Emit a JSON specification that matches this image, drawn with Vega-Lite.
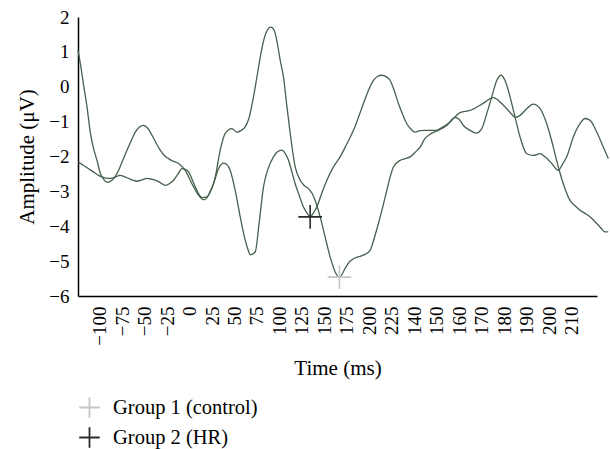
{
  "$schema": "https://vega.github.io/schema/vega-lite/v6.json",
  "autosize": {"type": "none"},
  "width": 519,
  "height": 279,
  "padding": {"left": 78, "top": 17, "right": 13, "bottom": 153},
  "background": "white",
  "config": {
    "view": {"stroke": null},
    "font": "Liberation Serif",
    "axis": {
      "domainColor": "#000", "domainWidth": 1.5, "ticks": false, "grid": false, "labelOverlap": false,
      "labelFont": "Liberation Serif", "labelFontSize": 19, "labelColor": "#000",
      "titleFont": "Liberation Serif", "titleFontSize": 21, "titleFontWeight": "normal", "titleColor": "#000"
    },
    "legend": {
      "labelFont": "Liberation Serif", "labelFontSize": 20.5, "labelColor": "#000"
    }
  },
  "datasets": {
    "curves": [
      {"s":"A","u":-0.96,"v":1.05},{"s":"A","u":-0.836,"v":0.59},{"s":"A","u":-0.711,"v":0.04},{"s":"A","u":-0.569,"v":-0.53},{"s":"A","u":-0.413,"v":-1.31},{"s":"A","u":-0.28,"v":-1.74},{"s":"A","u":-0.116,"v":-2.11},{"s":"A","u":0.031,"v":-2.48},{"s":"A","u":0.178,"v":-2.65},{"s":"A","u":0.329,"v":-2.74},{"s":"A","u":0.551,"v":-2.68},{"s":"A","u":0.844,"v":-2.4},{"s":"A","u":1.031,"v":-2.11},{"s":"A","u":1.218,"v":-1.82},{"s":"A","u":1.409,"v":-1.54},{"s":"A","u":1.587,"v":-1.3},{"s":"A","u":1.764,"v":-1.16},{"s":"A","u":1.956,"v":-1.11},{"s":"A","u":2.142,"v":-1.19},{"s":"A","u":2.329,"v":-1.39},{"s":"A","u":2.52,"v":-1.62},{"s":"A","u":2.698,"v":-1.82},{"s":"A","u":2.876,"v":-1.97},{"s":"A","u":3.067,"v":-2.06},{"s":"A","u":3.289,"v":-2.14},{"s":"A","u":3.511,"v":-2.2},{"s":"A","u":3.809,"v":-2.4},{"s":"A","u":4.107,"v":-2.78},{"s":"A","u":4.4,"v":-3.11},{"s":"A","u":4.622,"v":-3.24},{"s":"A","u":4.844,"v":-3.11},{"s":"A","u":5.142,"v":-2.59},{"s":"A","u":5.364,"v":-1.82},{"s":"A","u":5.587,"v":-1.34},{"s":"A","u":5.884,"v":-1.2},{"s":"A","u":6.107,"v":-1.3},{"s":"A","u":6.298,"v":-1.25},{"s":"A","u":6.476,"v":-1.15},{"s":"A","u":6.653,"v":-0.88},{"s":"A","u":6.844,"v":-0.29},{"s":"A","u":7.009,"v":0.33},{"s":"A","u":7.218,"v":1.1},{"s":"A","u":7.409,"v":1.56},{"s":"A","u":7.618,"v":1.71},{"s":"A","u":7.764,"v":1.62},{"s":"A","u":7.92,"v":1.19},{"s":"A","u":8.031,"v":0.76},{"s":"A","u":8.178,"v":0.28},{"s":"A","u":8.298,"v":-0.39},{"s":"A","u":8.476,"v":-1.33},{"s":"A","u":8.698,"v":-2.3},{"s":"A","u":8.92,"v":-2.68},{"s":"A","u":9.098,"v":-2.83},{"s":"A","u":9.289,"v":-2.92},{"s":"A","u":9.453,"v":-3.06},{"s":"A","u":9.587,"v":-3.26},{"s":"A","u":9.809,"v":-3.73},{"s":"A","u":10.031,"v":-4.31},{"s":"A","u":10.253,"v":-4.88},{"s":"A","u":10.476,"v":-5.31},{"s":"A","u":10.667,"v":-5.46},{"s":"A","u":10.92,"v":-5.21},{"s":"A","u":11.098,"v":-5.03},{"s":"A","u":11.289,"v":-4.93},{"s":"A","u":11.498,"v":-4.88},{"s":"A","u":11.733,"v":-4.83},{"s":"A","u":12.031,"v":-4.69},{"s":"A","u":12.209,"v":-4.35},{"s":"A","u":12.4,"v":-3.92},{"s":"A","u":12.587,"v":-3.46},{"s":"A","u":12.773,"v":-2.97},{"s":"A","u":12.92,"v":-2.59},{"s":"A","u":13.067,"v":-2.3},{"s":"A","u":13.364,"v":-2.11},{"s":"A","u":13.587,"v":-2.06},{"s":"A","u":13.809,"v":-2.01},{"s":"A","u":14.031,"v":-1.88},{"s":"A","u":14.253,"v":-1.73},{"s":"A","u":14.476,"v":-1.48},{"s":"A","u":14.698,"v":-1.36},{"s":"A","u":14.996,"v":-1.27},{"s":"A","u":15.44,"v":-1.11},{"s":"A","u":15.809,"v":-0.88},{"s":"A","u":15.987,"v":-0.93},{"s":"A","u":16.178,"v":-1.11},{"s":"A","u":16.476,"v":-1.25},{"s":"A","u":16.742,"v":-1.33},{"s":"A","u":16.996,"v":-1.2},{"s":"A","u":17.218,"v":-0.77},{"s":"A","u":17.44,"v":-0.29},{"s":"A","u":17.662,"v":0.18},{"s":"A","u":17.853,"v":0.33},{"s":"A","u":18.031,"v":0.18},{"s":"A","u":18.253,"v":-0.29},{"s":"A","u":18.476,"v":-0.87},{"s":"A","u":18.698,"v":-1.44},{"s":"A","u":18.996,"v":-1.92},{"s":"A","u":19.289,"v":-1.97},{"s":"A","u":19.587,"v":-1.92},{"s":"A","u":19.809,"v":-2.01},{"s":"A","u":20.107,"v":-2.2},{"s":"A","u":20.4,"v":-2.4},{"s":"A","u":20.587,"v":-2.22},{"s":"A","u":20.773,"v":-2.01},{"s":"A","u":21.067,"v":-1.44},{"s":"A","u":21.364,"v":-1.06},{"s":"A","u":21.587,"v":-0.91},{"s":"A","u":21.809,"v":-0.96},{"s":"A","u":22.107,"v":-1.3},{"s":"A","u":22.4,"v":-1.73},{"s":"A","u":22.622,"v":-2.06},
      {"s":"B","u":-0.96,"v":-2.16},{"s":"B","u":-0.724,"v":-2.25},{"s":"B","u":-0.489,"v":-2.35},{"s":"B","u":-0.28,"v":-2.44},{"s":"B","u":-0.044,"v":-2.54},{"s":"B","u":0.164,"v":-2.6},{"s":"B","u":0.4,"v":-2.63},{"s":"B","u":0.653,"v":-2.6},{"s":"B","u":0.92,"v":-2.54},{"s":"B","u":1.098,"v":-2.58},{"s":"B","u":1.289,"v":-2.63},{"s":"B","u":1.476,"v":-2.68},{"s":"B","u":1.662,"v":-2.71},{"s":"B","u":1.884,"v":-2.67},{"s":"B","u":2.107,"v":-2.63},{"s":"B","u":2.298,"v":-2.65},{"s":"B","u":2.476,"v":-2.68},{"s":"B","u":2.698,"v":-2.75},{"s":"B","u":2.92,"v":-2.83},{"s":"B","u":3.098,"v":-2.78},{"s":"B","u":3.289,"v":-2.68},{"s":"B","u":3.476,"v":-2.51},{"s":"B","u":3.662,"v":-2.35},{"s":"B","u":3.809,"v":-2.37},{"s":"B","u":3.956,"v":-2.44},{"s":"B","u":4.098,"v":-2.63},{"s":"B","u":4.253,"v":-2.87},{"s":"B","u":4.4,"v":-3.06},{"s":"B","u":4.551,"v":-3.18},{"s":"B","u":4.773,"v":-3.16},{"s":"B","u":4.92,"v":-3.0},{"s":"B","u":5.067,"v":-2.78},{"s":"B","u":5.289,"v":-2.35},{"s":"B","u":5.511,"v":-2.19},{"s":"B","u":5.676,"v":-2.24},{"s":"B","u":5.809,"v":-2.4},{"s":"B","u":6.031,"v":-2.97},{"s":"B","u":6.253,"v":-3.73},{"s":"B","u":6.476,"v":-4.4},{"s":"B","u":6.609,"v":-4.69},{"s":"B","u":6.698,"v":-4.82},{"s":"B","u":6.92,"v":-4.74},{"s":"B","u":7.098,"v":-3.89},{"s":"B","u":7.289,"v":-2.87},{"s":"B","u":7.498,"v":-2.34},{"s":"B","u":7.733,"v":-2.01},{"s":"B","u":7.898,"v":-1.87},{"s":"B","u":8.107,"v":-1.82},{"s":"B","u":8.253,"v":-1.91},{"s":"B","u":8.4,"v":-2.11},{"s":"B","u":8.542,"v":-2.42},{"s":"B","u":8.698,"v":-2.78},{"s":"B","u":8.876,"v":-3.11},{"s":"B","u":9.067,"v":-3.45},{"s":"B","u":9.231,"v":-3.63},{"s":"B","u":9.364,"v":-3.73},{"s":"B","u":9.498,"v":-3.63},{"s":"B","u":9.662,"v":-3.45},{"s":"B","u":9.876,"v":-3.06},{"s":"B","u":10.107,"v":-2.68},{"s":"B","u":10.387,"v":-2.31},{"s":"B","u":10.698,"v":-2.01},{"s":"B","u":10.987,"v":-1.65},{"s":"B","u":11.289,"v":-1.25},{"s":"B","u":11.498,"v":-0.9},{"s":"B","u":11.733,"v":-0.48},{"s":"B","u":11.942,"v":-0.13},{"s":"B","u":12.178,"v":0.18},{"s":"B","u":12.364,"v":0.3},{"s":"B","u":12.551,"v":0.33},{"s":"B","u":12.742,"v":0.29},{"s":"B","u":12.92,"v":0.18},{"s":"B","u":13.098,"v":-0.1},{"s":"B","u":13.289,"v":-0.48},{"s":"B","u":13.476,"v":-0.79},{"s":"B","u":13.662,"v":-1.06},{"s":"B","u":13.853,"v":-1.22},{"s":"B","u":14.031,"v":-1.3},{"s":"B","u":14.253,"v":-1.26},{"s":"B","u":14.476,"v":-1.25},{"s":"B","u":14.698,"v":-1.25},{"s":"B","u":14.964,"v":-1.25},{"s":"B","u":15.142,"v":-1.2},{"s":"B","u":15.587,"v":-1.01},{"s":"B","u":16.031,"v":-0.74},{"s":"B","u":16.476,"v":-0.68},{"s":"B","u":16.92,"v":-0.53},{"s":"B","u":17.187,"v":-0.42},{"s":"B","u":17.364,"v":-0.34},{"s":"B","u":17.511,"v":-0.31},{"s":"B","u":17.676,"v":-0.36},{"s":"B","u":17.809,"v":-0.44},{"s":"B","u":17.987,"v":-0.55},{"s":"B","u":18.178,"v":-0.68},{"s":"B","u":18.342,"v":-0.8},{"s":"B","u":18.476,"v":-0.88},{"s":"B","u":18.698,"v":-0.82},{"s":"B","u":18.996,"v":-0.63},{"s":"B","u":19.289,"v":-0.5},{"s":"B","u":19.587,"v":-0.63},{"s":"B","u":19.884,"v":-1.06},{"s":"B","u":20.178,"v":-1.73},{"s":"B","u":20.4,"v":-2.3},{"s":"B","u":20.622,"v":-2.78},{"s":"B","u":20.92,"v":-3.26},{"s":"B","u":21.142,"v":-3.41},{"s":"B","u":21.364,"v":-3.54},{"s":"B","u":21.587,"v":-3.63},{"s":"B","u":21.809,"v":-3.73},{"s":"B","u":22.031,"v":-3.87},{"s":"B","u":22.253,"v":-4.02},{"s":"B","u":22.476,"v":-4.16},{"s":"B","u":22.622,"v":-4.16}
    ],
    "markers": [
      {"group": "Group 1 (control)", "u": 10.667, "v": -5.46},
      {"group": "Group 2 (HR)", "u": 9.364, "v": -3.73}
    ]
  },
  "encoding": {
    "x": {
      "field": "u", "type": "quantitative",
      "scale": {"domain": [-0.96, 22.12], "nice": false, "zero": false},
      "axis": {
        "title": "Time (ms)",
        "values": [0,1,2,3,4,5,6,7,8,9,10,11,12,13,14,15,16,17,18,19,20,21],
        "labelExpr": "['−100','−75','−50','−25','0','25','50','75','100','125','150','175','200','225','140','150','160','170','180','190','200','210'][datum.value]",
        "labelAngle": -90, "labelPadding": 10, "titlePadding": 12, "labelOverlap": false, "labelBound": false
      }
    },
    "y": {
      "field": "v", "type": "quantitative",
      "scale": {"domain": [-6, 2], "nice": false, "zero": false},
      "axis": {
        "title": "Amplitude (μV)",
        "values": [-6,-5,-4,-3,-2,-1,0,1,2],
        "labelPadding": 9, "titlePadding": 11, "labelOverlap": false
      }
    }
  },
  "layer": [
    {
      "data": {"name": "curves"},
      "mark": {"type": "line", "interpolate": "monotone", "color": "#45604c", "strokeWidth": 1.3},
      "encoding": {
        "detail": {"field": "s", "type": "nominal"}
      }
    },
    {
      "data": {"name": "markers"},
      "mark": {"type": "point", "shape": "M-1,0H1M0,-1V1", "filled": false, "strokeWidth": 1.6, "size": 560, "opacity": 1},
      "encoding": {
        "color": {
          "field": "group", "type": "nominal",
          "scale": {"domain": ["Group 1 (control)", "Group 2 (HR)"], "range": ["#c6c6c6", "#2a2a2a"]},
          "legend": {
            "title": null, "orient": "none", "legendX": 0, "legendY": 379,
            "symbolType": "M-1,0H1M0,-1V1", "symbolSize": 420, "symbolStrokeWidth": 1.8,
            "labelOffset": 12, "rowPadding": 1, "padding": 0
          }
        }
      }
    }
  ]
}
